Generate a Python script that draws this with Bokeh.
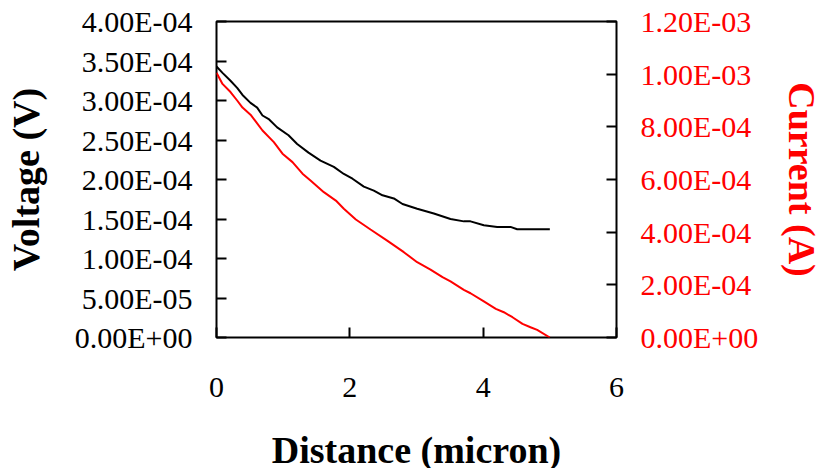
from bokeh.plotting import figure
from bokeh.models import Range1d, LinearAxis, FixedTicker, CustomJSTickFormatter
from bokeh.embed import file_html
from bokeh.resources import INLINE

# Voltage series (left axis)
dist_v = [0, 0.09, 0.21, 0.31, 0.39, 0.51, 0.61, 0.69, 0.79, 0.91, 1.08, 1.21, 1.38,
          1.56, 1.76, 1.91, 2.04, 2.21, 2.36, 2.49, 2.66, 2.79, 3.01, 3.26, 3.51,
          3.71, 3.81, 4.01, 4.21, 4.41, 4.51, 5.0]
voltage = [3.43e-4, 3.35e-4, 3.25e-4, 3.16e-4, 3.07e-4, 2.97e-4, 2.91e-4, 2.81e-4,
           2.76e-4, 2.66e-4, 2.56e-4, 2.45e-4, 2.34e-4, 2.24e-4, 2.16e-4, 2.07e-4,
           2.01e-4, 1.91e-4, 1.86e-4, 1.80e-4, 1.76e-4, 1.69e-4, 1.63e-4, 1.57e-4,
           1.50e-4, 1.47e-4, 1.47e-4, 1.42e-4, 1.40e-4, 1.40e-4, 1.37e-4, 1.37e-4]

# Current series (right axis)
dist_i = [0, 0.09, 0.21, 0.31, 0.39, 0.51, 0.59, 0.69, 0.86, 0.99, 1.14, 1.29, 1.41,
          1.61, 1.79, 1.91, 2.09, 2.31, 2.56, 2.81, 3.01, 3.21, 3.39, 3.51, 3.71,
          3.81, 4.01, 4.19, 4.31, 4.44, 4.59, 4.71, 4.81, 5.0]
current = [1.005e-3, 9.63e-4, 9.32e-4, 9.0e-4, 8.73e-4, 8.46e-4, 8.2e-4, 7.86e-4,
           7.42e-4, 6.98e-4, 6.66e-4, 6.22e-4, 5.96e-4, 5.52e-4, 5.20e-4, 4.89e-4,
           4.48e-4, 4.10e-4, 3.68e-4, 3.24e-4, 2.86e-4, 2.58e-4, 2.29e-4, 2.13e-4,
           1.81e-4, 1.68e-4, 1.37e-4, 1.09e-4, 9.6e-5, 7.7e-5, 5.2e-5, 3.9e-5,
           2.9e-5, 0.0]

x_ticks = [0, 2, 4, 6]
v_ticks = [0, 5e-5, 1e-4, 1.5e-4, 2e-4, 2.5e-4, 3e-4, 3.5e-4, 4e-4]
v_labels = ["0.00E+00", "5.00E-05", "1.00E-04", "1.50E-04", "2.00E-04",
            "2.50E-04", "3.00E-04", "3.50E-04", "4.00E-04"]
i_ticks = [0, 2e-4, 4e-4, 6e-4, 8e-4, 1e-3, 1.2e-3]
i_labels = ["0.00E+00", "2.00E-04", "4.00E-04", "6.00E-04", "8.00E-04",
            "1.00E-03", "1.20E-03"]

FONT = "Liberation Serif"
TICK_SIZE = "30px"
TITLE_SIZE = "38px"

p = figure(width=820, height=468, output_backend="svg", toolbar_location=None,
           x_range=Range1d(0, 6), y_range=Range1d(0, 4e-4),
           frame_width=400, frame_height=316,
           min_border_left=216, min_border_right=204, min_border_top=21,
           min_border_bottom=131)
p.extra_y_ranges = {"cur": Range1d(0, 1.2e-3)}
p.xgrid.visible = False
p.ygrid.visible = False
p.outline_line_color = "black"
p.outline_line_width = 2
p.background_fill_color = "white"
p.border_fill_color = "white"

code = """
for (let k = 0; k < tk.length; k++) {
  if (Math.abs(tk[k] - tick) < 1e-12) { return lb[k]; }
}
return "";
"""

def style(ax, color, label, title_color):
    ax.axis_line_color = None
    ax.major_tick_in = 10
    ax.major_tick_out = 0
    ax.major_tick_line_color = "black"
    ax.major_tick_line_width = 2
    ax.minor_tick_line_color = None
    ax.major_label_text_font = FONT
    ax.major_label_text_font_size = TICK_SIZE
    ax.major_label_text_color = color
    ax.axis_label = label
    ax.axis_label_text_font = FONT
    ax.axis_label_text_font_size = TITLE_SIZE
    ax.axis_label_text_font_style = "bold"
    ax.axis_label_text_color = title_color

xa = p.xaxis[0]
xa.ticker = FixedTicker(ticks=x_ticks)
style(xa, "black", "Distance (micron)", "black")
xa.major_label_standoff = 40
xa.axis_label_standoff = 29

ya = p.yaxis[0]
ya.ticker = FixedTicker(ticks=v_ticks)
ya.formatter = CustomJSTickFormatter(args=dict(tk=v_ticks, lb=v_labels), code=code)
style(ya, "black", "Voltage (V)", "black")
ya.major_label_standoff = 24
ya.axis_label_standoff = 25

ra = LinearAxis(y_range_name="cur")
ra.ticker = FixedTicker(ticks=i_ticks)
ra.formatter = CustomJSTickFormatter(args=dict(tk=i_ticks, lb=i_labels), code=code)
style(ra, "#ff0000", "Current (A)", "#ff0000")
ra.axis_label_orientation = "vertical"
ra.major_label_standoff = 24
ra.axis_label_standoff = 20
p.add_layout(ra, "right")

p.line(dist_v, voltage, line_color="black", line_width=2)
p.line(dist_i, current, line_color="#ff0000", line_width=2, y_range_name="cur")

open("out.html", "w").write(file_html(p, INLINE))
